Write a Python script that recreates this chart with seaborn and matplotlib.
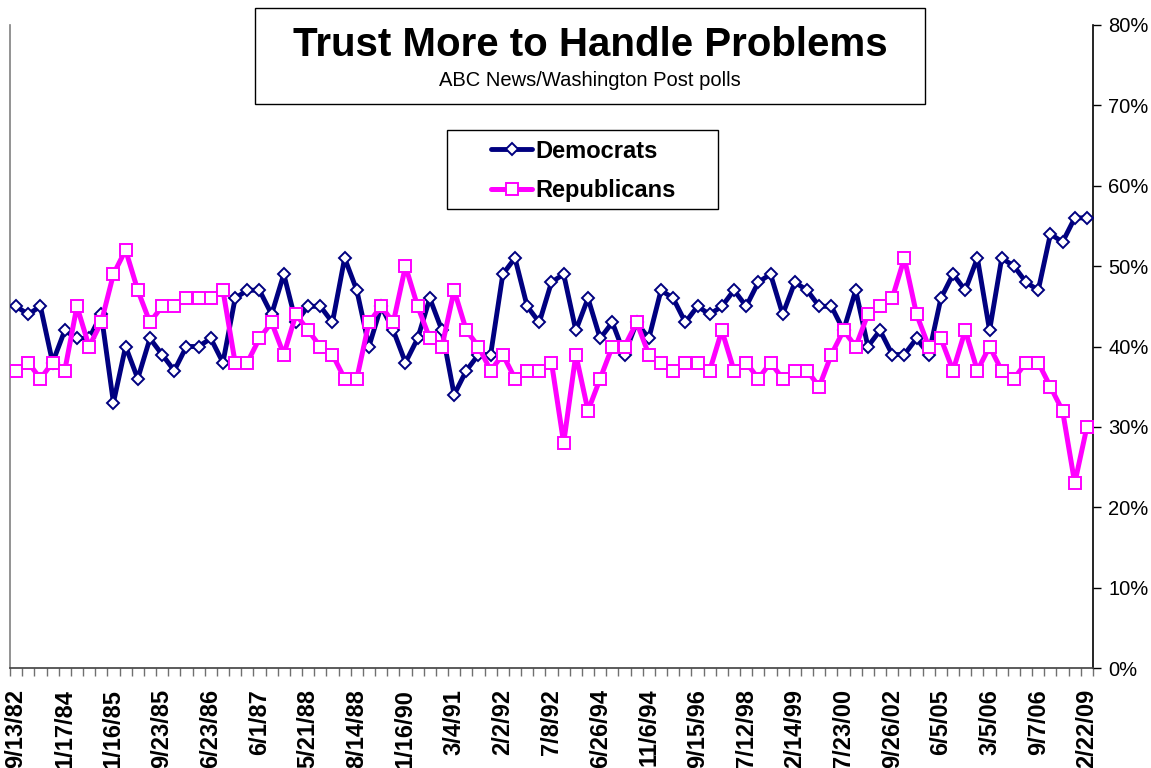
import matplotlib
matplotlib.use("Agg")
import matplotlib.pyplot as plt
import seaborn as sns
import pandas as pd
import numpy as np
from matplotlib.patches import Rectangle
from matplotlib.ticker import FuncFormatter, FixedLocator

# ---- data ----
tick_labels = ["9/13/82", "1/17/84", "1/16/85", "9/23/85", "6/23/86", "6/1/87",
               "5/21/88", "8/14/88", "1/16/90", "3/4/91", "2/2/92", "7/8/92",
               "6/26/94", "11/6/94", "9/15/96", "7/12/98", "2/14/99", "7/23/00",
               "9/26/02", "6/5/05", "3/5/06", "9/7/06", "2/22/09"]

democrats = [45, 44, 45, 38, 42, 41, 41, 44, 33, 40, 36, 41, 39, 37, 40, 40, 41, 38, 46, 47,
             47, 44, 49, 43, 45, 45, 43, 51, 47, 40,
             45, 42, 38, 41, 46, 42, 34, 37, 39, 39, 49, 51, 45, 43, 48, 49, 42,
             46, 41, 43, 39, 43, 41, 47, 46, 43, 45, 44,
             45, 47, 45, 48, 49, 44, 48, 47, 45, 45, 42, 47, 40, 42, 39,
             39, 41, 39, 46, 49, 47, 51, 42, 51, 50, 48, 47, 54, 53, 56, 56]

republicans = [37, 38, 36, 38, 37, 45, 40, 43, 49, 52, 47, 43, 45, 45, 46, 46, 46, 47, 38, 38,
               41, 43, 39, 44, 42, 40, 39, 36, 36, 43,
               45, 43, 50, 45, 41, 40, 47, 42, 40, 37, 39, 36, 37, 37, 38, 28, 39,
               32, 36, 40, 40, 43, 39, 38, 37, 38, 38, 37,
               42, 37, 38, 36, 38, 36, 37, 37, 35, 39, 42, 40, 44, 45, 46,
               51, 44, 40, 41, 37, 42, 37, 40, 37, 36, 38, 38, 35, 32, 23, 30]

title = "Trust More to Handle Problems"
subtitle = "ABC News/Washington Post polls"

n = len(democrats)
df = pd.DataFrame({"idx": np.arange(n), "Democrats": democrats, "Republicans": republicans})

# ---- style ----
sns.set_style("white")
plt.rcParams["font.family"] = ["Liberation Sans", "DejaVu Sans"]
plt.rcParams["text.color"] = "black"
plt.rcParams["xtick.color"] = "black"
plt.rcParams["ytick.color"] = "black"
plt.rcParams["axes.labelcolor"] = "black"

W, H = 1151, 768
fig = plt.figure(figsize=(W / 100, H / 100), dpi=100)
ax = fig.add_axes([10 / W, 1 - 668 / H, (1093 - 10) / W, (668 - 25) / H])

navy = "#000080"
magenta = "#FF00FF"

sns.lineplot(data=df, x="idx", y="Democrats", ax=ax, color=navy, linewidth=3.5,
             marker="D", markersize=6, markerfacecolor="white",
             markeredgecolor=navy, markeredgewidth=1.4, label="Democrats", zorder=3)
sns.lineplot(data=df, x="idx", y="Republicans", ax=ax, color=magenta, linewidth=3.6,
             marker="s", markersize=8, markerfacecolor="white",
             markeredgecolor=magenta, markeredgewidth=1.4, label="Republicans", zorder=4)

ax.set_xlim(-0.5, n - 0.5)
ax.set_ylim(0, 80)
ax.set_xlabel("")
ax.set_ylabel("")

# x axis: labels every 4th category, tick marks between categories
ax.set_xticks(np.arange(0, n, 4))
ax.set_xticklabels(tick_labels, rotation=90, fontsize=17, fontweight="bold",
                   va="top", ha="center", color="black")
ax.xaxis.set_minor_locator(FixedLocator(np.arange(-0.5, n, 1.0)))
ax.tick_params(axis="x", which="major", length=0, pad=15)
ax.tick_params(axis="x", which="minor", length=6, width=1, color="#707070",
               direction="out", bottom=True)

# y axis on right
ax.yaxis.tick_right()
ax.set_yticks(np.arange(0, 81, 10))
ax.yaxis.set_major_formatter(FuncFormatter(lambda v, p: f"{v:.0f}%"))
ax.tick_params(axis="y", which="major", length=6, width=1, direction="out",
               labelsize=14.5, pad=5, right=True, left=False, color="black",
               labelcolor="black")

ax.spines["top"].set_visible(False)
ax.spines["left"].set_color("#808080")
ax.spines["left"].set_linewidth(1.2)
ax.spines["right"].set_color("black")
ax.spines["right"].set_linewidth(1.2)
ax.spines["bottom"].set_color("#404040")
ax.spines["bottom"].set_linewidth(1.2)
ax.grid(False)

# title box
fig.patches.append(Rectangle((255 / W, 1 - 104 / H), (925 - 255) / W, 96 / H,
                             transform=fig.transFigure, facecolor="white",
                             edgecolor="black", linewidth=1.0, zorder=5))
fig.text(590 / W, 1 - 45 / H, title, fontsize=29, fontweight="bold",
         ha="center", va="center", zorder=6, color="black")
fig.text(590 / W, 1 - 81 / H, subtitle, fontsize=14.5, ha="center", va="center",
         zorder=6, color="black")

# legend
handles, labels = ax.get_legend_handles_labels()
if ax.legend_:
    ax.legend_.remove()
fig.patches.append(Rectangle((447 / W, 1 - 209 / H), 271 / W, 79 / H,
                             transform=fig.transFigure, facecolor="white",
                             edgecolor="black", linewidth=1.0, zorder=5))
leg = fig.legend(handles, labels, loc="center", bbox_to_anchor=(583.5 / W, 1 - 171 / H),
                 frameon=False, handlelength=1.7, handletextpad=0.15, labelspacing=0.72,
                 borderpad=0, borderaxespad=0, numpoints=1,
                 prop={"size": 17, "weight": "bold"})
for t in leg.get_texts():
    t.set_color("black")
leg.set_zorder(7)

fig.savefig("out.png", dpi=100, facecolor="white")
